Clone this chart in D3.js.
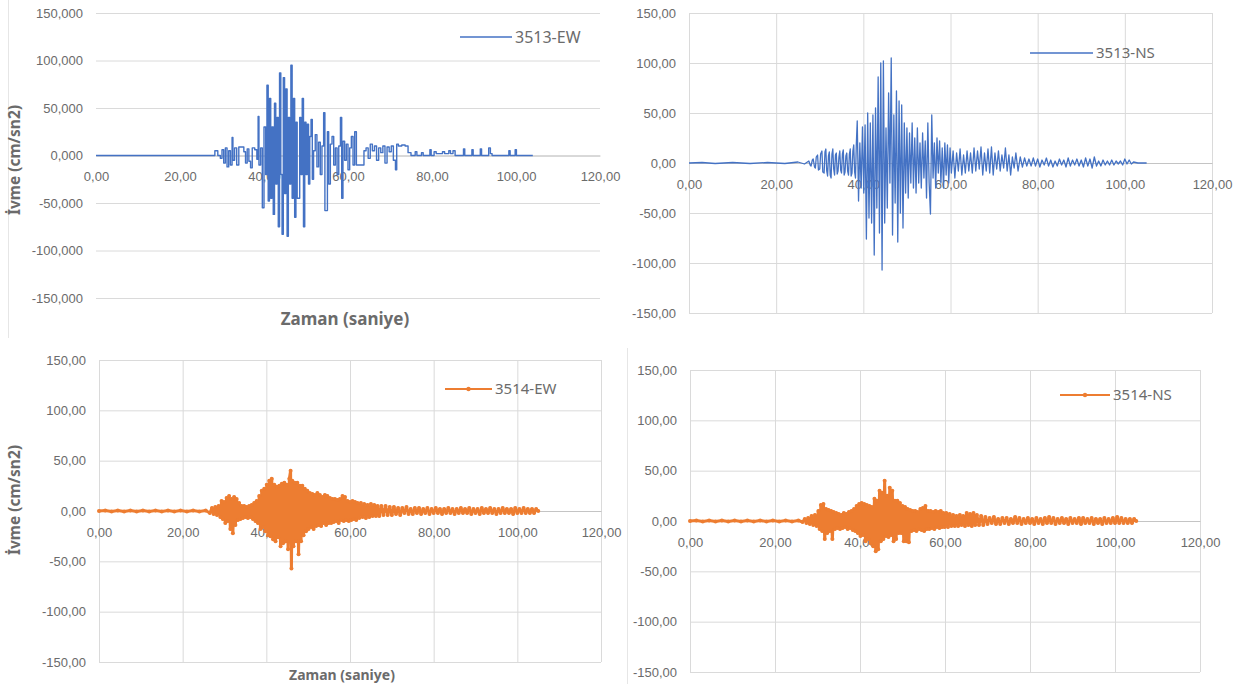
<!DOCTYPE html>
<html>
<head>
<meta charset="utf-8">
<script src="https://cdn.jsdelivr.net/npm/d3@7"></script>
<style>
  body { margin: 0; background: #fff; }
  svg { display: block; font-family: "Noto Sans", "Open Sans", sans-serif; }
</style>
</head>
<body>
<div id="graph"></div>
<script>
// axis ticks
var xTicks = [0, 20, 40, 60, 80, 100, 120];
var yTicks = [-150, -100, -50, 0, 50, 100, 150];
var seriesNames = ["3513-EW", "3513-NS", "3514-EW", "3514-NS"];
var yTitle = "İvme (cm/sn2)";
var xTitle = "Zaman (saniye)";

// [zaman (s), ivme (cm/sn2)]
var ew3513 = [[0,0],[28.2,0],[28.3,5],[29.0,0],[29.6,-3],[30.0,6],[30.4,-8],[30.8,8],[31.2,-12],[31.6,5],[32.0,-10],[32.4,19],[32.6,-5],[33.0,8],[33.5,-10],[34.0,9],[34.6,9],[35.2,4],[35.6,-8],[36.0,7],[36.4,-6],[36.8,-13],[37.2,8],[37.8,6],[38.3,-4],[38.6,41],[38.8,-10],[39.2,8],[39.6,-55],[40.0,30],[40.4,-20],[40.7,74],[41.0,-48],[41.3,60],[41.6,-45],[41.9,30],[42.2,-62],[42.5,55],[42.8,-30],[43.1,40],[43.4,-75],[43.7,87],[44.0,-20],[44.3,-83],[44.6,82],[44.9,-40],[45.2,70],[45.5,-85],[45.8,40],[46.1,-30],[46.4,95],[46.7,-45],[47.0,60],[47.3,-65],[47.6,35],[47.9,-45],[48.2,-45],[48.5,40],[48.8,-20],[49.1,60],[49.4,-75],[49.7,35],[50.0,-20],[50.3,33],[50.6,-30],[50.9,20],[51.2,38],[51.5,-25],[51.8,5],[52.2,22],[52.6,-12],[53.0,14],[53.4,-20],[53.8,10],[54.2,45],[54.5,-58],[54.8,-58],[55.1,25],[55.4,-30],[55.8,12],[56.2,20],[56.6,-10],[57.0,8],[57.4,-20],[57.8,10],[58.2,40],[58.5,-45],[58.8,15],[59.2,-5],[59.6,12],[60.0,-15],[60.4,8],[60.8,20],[61.2,-10],[61.6,25],[62.0,-10],[62.6,-10],[63.2,-10],[63.8,5],[64.3,8],[64.8,-3],[65.3,12],[65.8,5],[66.3,10],[66.8,-5],[67.3,8],[67.8,3],[68.3,10],[68.8,-8],[69.3,9],[69.8,4],[70.3,10],[70.8,-5],[71.3,-15],[71.6,12],[72.0,10],[72.8,11],[73.6,10],[74.3,3],[75.0,0],[76.0,4],[76.4,0],[77.5,3],[77.9,0],[79.5,6],[79.8,0],[80.5,4],[81.0,2],[82.5,4],[83.0,2],[84.0,5],[84.4,2],[85.0,5],[85.5,0],[87.5,7],[87.8,0],[89.5,6],[89.8,0],[91.5,7],[91.8,0],[93.5,8],[93.9,2],[94.3,0],[98.3,5],[98.6,0],[99.8,6],[100.1,0],[104,0]];

var ns3513 = [[0,0],[3,0.5],[6,-0.5],[10,0.5],[14,-0.5],[18,0.5],[22,-0.5],[25,1],[26.5,-1],[27.5,2],[27.8,-2],[28,-3],[28.3,3],[28.5,4],[28.8,-4],[29,-5],[29.2,6],[29.5,8],[29.7,-7],[30,-6],[30.2,9],[30.5,12],[30.7,-9],[31,-10],[31.2,11],[31.4,14],[31.6,-8],[31.8,-13],[32.0,7],[32.2,11],[32.4,-12],[32.6,-15],[32.8,9],[33,14],[33.2,-6],[33.4,-12],[33.6,8],[33.8,10],[34.0,-11],[34.2,-8],[34.4,6],[34.6,12],[34.8,-7],[35,-10],[35.2,9],[35.4,13],[35.6,-12],[35.8,-9],[36.0,7],[36.2,10],[36.4,-8],[36.6,-12],[36.8,9],[37,14],[37.2,-13],[37.4,-10],[37.6,12],[37.8,18],[38.0,-9],[38.2,-15],[38.4,20],[38.6,42],[38.9,-38],[39.2,20],[39.5,-25],[39.8,36],[40.1,-30],[40.4,38],[40.7,-76],[41.0,50],[41.3,-55],[41.6,40],[41.9,-60],[42.2,48],[42.5,-92],[42.8,55],[43.1,-45],[43.4,86],[43.7,-70],[44.0,100],[44.3,-107],[44.6,102],[44.9,-60],[45.2,35],[45.5,-45],[45.8,70],[46.1,-20],[46.4,105],[46.7,-72],[47.0,48],[47.3,-40],[47.6,72],[47.9,-79],[48.2,62],[48.5,-50],[48.8,58],[49.1,-65],[49.4,40],[49.7,-30],[50.0,35],[50.3,-35],[50.6,30],[50.9,-20],[51.2,40],[51.5,-25],[51.8,25],[52.1,-30],[52.4,35],[52.7,-20],[53.0,20],[53.3,-25],[53.6,30],[53.9,-15],[54.2,22],[54.5,-35],[54.8,40],[55.1,-20],[55.4,-51],[55.7,48],[56.0,-15],[56.3,20],[56.6,-25],[56.9,25],[57.2,-10],[57.5,22],[57.8,-20],[58.1,15],[58.4,-25],[58.7,20],[59.0,-12],[59.3,18],[59.6,-20],[59.9,15],[60.2,-10],[60.6,12],[61.0,-15],[61.4,10],[61.8,-8],[62.2,14],[62.6,-12],[63.0,8],[63.4,-10],[63.8,12],[64.2,-8],[64.6,10],[65.0,-10],[65.4,15],[65.8,-8],[66.2,12],[66.6,-6],[67.0,16],[67.4,-12],[67.8,10],[68.2,-8],[68.6,14],[69.0,-10],[69.4,16],[69.8,-12],[70.2,10],[70.6,-6],[71.0,12],[71.4,-8],[71.8,8],[72.2,-5],[72.6,15],[73.0,-8],[73.4,8],[73.8,-12],[74.2,6],[74.6,-5],[75.0,10],[75.5,-8],[76,6],[76.5,-4],[77,5],[77.5,-3],[78,4],[78.5,-3],[79,5],[79.5,-3],[80,4],[80.5,-4],[81,3],[81.5,-2],[82,5],[82.5,-3],[83,3],[83.5,-4],[84,2],[84.5,-3],[85,4],[85.5,-2],[86,3],[86.5,-4],[87,5],[87.5,-3],[88,3],[88.5,-2],[89,4],[89.5,-3],[90,3],[90.5,-4],[91,5],[91.5,-3],[92,4],[92.5,-5],[93,6],[93.5,-3],[94,2],[94.5,-3],[95,3],[95.5,-2],[96,2],[96.5,-2],[97,3],[97.5,-2],[98,2],[98.5,-1],[99,2],[99.5,-2],[100,4],[100.5,-1],[101,3],[101.5,-1],[102,1],[103,0],[105,0]];

var ew3514 = [[0,0],[1.5,0.5],[3,-0.5],[4.5,0.5],[6,-0.5],[7.5,0.5],[9,-0.5],[10.5,0.5],[12,-0.5],[13.5,0.5],[15,-0.5],[16.5,0.5],[18,-0.5],[19.5,0.5],[21,-0.5],[22.5,0.5],[24,-0.5],[25.5,0.5],[26.5,-2],[27,3],[27.4,-3],[27.8,4],[28.2,-4],[28.6,5],[29.0,-6],[29.3,10],[29.6,-8],[29.9,9],[30.2,-12],[30.5,13],[30.8,-10],[31.1,15],[31.4,-18],[31.7,12],[32.0,-22],[32.3,14],[32.6,-14],[32.9,12],[33.2,-9],[33.5,8],[33.8,-8],[34.1,5],[34.4,-7],[34.7,5],[35.0,-6],[35.3,4],[35.6,-7],[35.9,5],[36.2,-6],[36.5,6],[36.8,-8],[37.1,8],[37.4,-10],[37.7,10],[38.0,-12],[38.3,15],[38.6,-18],[38.9,20],[39.2,-16],[39.5,22],[39.8,-20],[40.1,26],[40.4,-24],[40.7,30],[41.0,-25],[41.3,32],[41.6,-28],[41.9,26],[42.2,-30],[42.5,24],[42.8,-26],[43.1,25],[43.4,-35],[43.7,27],[44.0,-32],[44.3,28],[44.6,-30],[44.9,26],[45.2,-38],[45.5,32],[45.8,40],[46.0,-57],[46.2,30],[46.5,-35],[46.8,28],[47.1,-30],[47.4,28],[47.7,-43],[48.0,25],[48.3,-30],[48.6,25],[48.9,-24],[49.2,22],[49.5,-20],[49.8,20],[50.1,-18],[50.4,18],[50.7,-16],[51.0,17],[51.3,-18],[51.6,16],[51.9,-15],[52.2,18],[52.5,-14],[52.8,16],[53.1,-15],[53.4,14],[53.7,-12],[54.0,16],[54.3,-14],[54.6,15],[54.9,-12],[55.2,13],[55.5,-12],[55.8,12],[56.1,-11],[56.4,12],[56.7,-10],[57.0,11],[57.3,-12],[57.6,12],[57.9,-9],[58.2,15],[58.5,-10],[58.8,14],[59.1,-9],[59.4,10],[59.7,-10],[60.0,9],[60.3,-9],[60.6,10],[60.9,-8],[61.2,9],[61.5,-9],[61.8,8],[62.2,-7],[62.6,8],[63.0,-6],[63.4,7],[63.8,-7],[64.2,6],[64.6,-6],[65.0,7],[65.4,-5],[65.8,6],[66.2,-5],[66.6,5],[67.0,-5],[67.5,5],[68.0,-4],[68.5,5],[69.0,-4],[69.5,4],[70.0,-4],[70.5,4],[71.0,-3],[71.5,3],[72.0,-4],[72.5,3],[73.0,-2],[73.5,4],[74.0,-3],[74.5,2],[75.0,-3],[75.5,3],[76.0,-2],[76.5,3],[77.0,-3],[77.5,2],[78.0,-2],[78.5,3],[79.0,-3],[79.5,2],[80.0,-2],[80.5,3],[81.0,-2],[81.5,2],[82.0,-3],[82.5,2],[83.0,-2],[83.5,3],[84.0,-2],[84.5,2],[85.0,-3],[85.5,2],[86.0,-2],[86.5,3],[87.0,-2],[87.5,2],[88.0,-2],[88.5,3],[89.0,-3],[89.5,2],[90.0,-2],[90.5,2],[91.0,-3],[91.5,3],[92.0,-2],[92.5,2],[93.0,-2],[93.5,3],[94.0,-2],[94.5,2],[95.0,-3],[95.5,2],[96.0,-2],[96.5,3],[97.0,-2],[97.5,2],[98.0,-2],[98.5,2],[99.0,-3],[99.5,3],[100.0,-2],[100.5,2],[101.0,-2],[101.5,3],[102.0,-2],[102.5,2],[103.0,-2],[103.5,2],[104.0,-2],[104.5,2],[105.0,0]];

var ns3514 = [[0,0],[1.5,0.5],[3,-0.5],[4.5,0.5],[6,-0.5],[7.5,0.5],[9,-0.5],[10.5,0.5],[12,-0.5],[13.5,0.5],[15,-0.5],[16.5,0.5],[18,-0.5],[19.5,0.5],[21,-0.5],[22.5,0.5],[24,-0.5],[25.5,0.5],[26.5,-1],[27,2],[27.4,-2],[27.8,3],[28.2,-3],[28.6,5],[29.0,-4],[29.4,6],[29.8,-5],[30.2,10],[30.5,-8],[30.8,16],[31.1,-10],[31.4,17],[31.7,-18],[32.0,12],[32.3,-12],[32.6,11],[32.9,-10],[33.2,10],[33.5,-18],[33.8,9],[34.1,-8],[34.4,8],[34.7,-7],[35.0,7],[35.3,-8],[35.6,6],[35.9,-7],[36.2,8],[36.5,-6],[36.8,7],[37.1,-8],[37.4,9],[37.7,-7],[38.0,10],[38.3,-9],[38.6,12],[38.9,-10],[39.2,15],[39.5,-12],[39.8,17],[40.1,-15],[40.4,18],[40.7,-14],[41.0,17],[41.3,-20],[41.6,16],[41.9,-18],[42.2,15],[42.5,-22],[42.8,14],[43.1,-25],[43.4,22],[43.7,-30],[44.0,20],[44.3,-28],[44.6,30],[44.9,-20],[45.2,28],[45.5,-18],[45.8,40],[46.1,-15],[46.4,25],[46.7,-16],[47.0,33],[47.3,-14],[47.6,30],[47.9,-20],[48.2,20],[48.5,-18],[48.8,20],[49.1,-12],[49.4,18],[49.7,-12],[50.0,15],[50.3,-20],[50.6,14],[50.9,-20],[51.2,12],[51.5,-21],[51.8,11],[52.1,-10],[52.4,10],[52.7,-9],[53.0,10],[53.3,-10],[53.6,9],[53.9,-8],[54.2,12],[54.5,-9],[54.8,13],[55.1,-10],[55.4,15],[55.7,-8],[56.0,10],[56.3,-8],[56.6,10],[56.9,-7],[57.2,9],[57.5,-8],[57.8,10],[58.1,-6],[58.4,9],[58.7,-7],[59.0,10],[59.3,-6],[59.6,8],[59.9,-6],[60.3,8],[60.7,-6],[61.1,7],[61.5,-5],[61.9,6],[62.3,-5],[62.7,5],[63.1,-5],[63.5,6],[63.9,-4],[64.3,5],[64.7,-5],[65.1,8],[65.5,-4],[65.9,7],[66.3,-5],[66.7,8],[67.1,-4],[67.5,6],[68.0,-4],[68.5,5],[69.0,-4],[69.5,4],[70.0,-3],[70.5,3],[71.0,-2],[71.5,4],[72.0,-3],[72.5,2],[73.0,-3],[73.5,3],[74.0,-2],[74.5,3],[75.0,-3],[75.5,2],[76.0,-2],[76.5,4],[77.0,-2],[77.5,3],[78.0,-3],[78.5,2],[79.0,-2],[79.5,3],[80.0,-2],[80.5,2],[81.0,-3],[81.5,3],[82.0,-2],[82.5,2],[83.0,-3],[83.5,3],[84.0,-2],[84.5,4],[85.0,-2],[85.5,3],[86.0,-3],[86.5,2],[87.0,-2],[87.5,3],[88.0,-2],[88.5,2],[89.0,-3],[89.5,3],[90.0,-2],[90.5,2],[91.0,-2],[91.5,3],[92.0,-3],[92.5,3],[93.0,-2],[93.5,2],[94.0,-2],[94.5,3],[95.0,-3],[95.5,2],[96.0,-2],[96.5,2],[97.0,-3],[97.5,3],[98.0,-2],[98.5,2],[99.0,-2],[99.5,3],[100.0,-2],[100.5,4],[101.0,-2],[101.5,3],[102.0,-2],[102.5,2],[103.0,-2],[103.5,2],[104.0,-2],[104.5,2],[105.0,0]];

var blue = "#4472c4";
var orange = "#ed7d31";
var textColor = "#6b6b6b";
var gridColor = "#dadada";

var tr = d3.formatLocale({decimal: ",", thousands: ".", grouping: [3], currency: ["", ""], minus: "-"});

var svg = d3.select("#graph").append("svg")
    .attr("width", 1243)
    .attr("height", 684);

svg.append("rect").attr("width", 1243).attr("height", 684).attr("fill", "#fff");

// faint frame lines of the pasted excel charts
svg.append("line").attr("x1", 8.5).attr("x2", 8.5).attr("y1", 0).attr("y2", 338)
    .attr("stroke", "#e6e6e6");
svg.append("line").attr("x1", 627.5).attr("x2", 627.5).attr("y1", 348).attr("y2", 684)
    .attr("stroke", "#e6e6e6");

var panels = [
  {data: ew3513, name: seriesNames[0], color: blue, left: 96, right: 600, top: 13, bottom: 298,
   fmt: ".3f", vgrid: false, step: true, markers: false, width: 1.4,
   legend: [460, 512, 37, 16], yT: [20, 160, 15.5], xT: [345, 325, 17]},
  {data: ns3513, name: seriesNames[1], color: blue, left: 689, right: 1212, top: 13, bottom: 313,
   fmt: ".2f", vgrid: true, step: false, markers: false, width: 1.3,
   legend: [1030, 1093, 53, 15]},
  {data: ew3514, name: seriesNames[2], color: orange, left: 99, right: 601, top: 360, bottom: 662,
   fmt: ".2f", vgrid: true, step: false, markers: true, width: 3,
   legend: [445, 492, 389, 15], yT: [20, 500, 15.5], xT: [342, 680, 14]},
  {data: ns3514, name: seriesNames[3], color: orange, left: 690, right: 1200, top: 370, bottom: 672,
   fmt: ".2f", vgrid: true, step: false, markers: true, width: 3,
   legend: [1060, 1110, 395, 15]}
];

panels.forEach(drawPanel);

function drawPanel(p) {
  var x = d3.scaleLinear().domain([0, 120]).range([p.left, p.right]);
  var y = d3.scaleLinear().domain([-150, 150]).range([p.bottom, p.top]);
  var g = svg.append("g");

  // horizontal grid + y labels
  var yAxis = d3.axisLeft(y)
      .tickValues(yTicks)
      .tickSize(-(p.right - p.left))
      .tickFormat(tr.format(p.fmt));
  g.append("g")
      .attr("transform", "translate(" + p.left + ",0)")
      .call(yAxis)
      .call(function(a) {
        a.select(".domain").remove();
        a.selectAll(".tick line").attr("stroke", gridColor);
        a.selectAll(".tick text").attr("x", -13).attr("fill", textColor)
          .style("font-size", "13px");
      });

  // vertical grid
  if (p.vgrid) {
    g.append("g")
        .attr("transform", "translate(0," + p.bottom + ")")
        .call(d3.axisBottom(x).tickValues(xTicks).tickSize(-(p.bottom - p.top)).tickFormat(""))
        .call(function(a) {
          a.select(".domain").remove();
          a.selectAll(".tick line").attr("stroke", gridColor);
        });
  }

  // x axis through zero
  g.append("g")
      .attr("transform", "translate(0," + y(0) + ")")
      .call(d3.axisBottom(x).tickValues(xTicks).tickSize(0).tickFormat(tr.format(".2f")))
      .call(function(a) {
        a.select(".domain").attr("stroke", "#c4c4c4");
        a.selectAll(".tick text").attr("y", 21).attr("dy", "0.35em")
          .attr("fill", textColor).style("font-size", "13px");
      });

  var line = d3.line()
      .x(function(d) { return x(d[0]); })
      .y(function(d) { return y(d[1]); })
      .curve(p.step ? d3.curveStepAfter : d3.curveLinear);

  g.append("path")
      .datum(p.data)
      .attr("fill", "none")
      .attr("stroke", p.color)
      .attr("stroke-width", p.width)
      .attr("stroke-linejoin", "round")
      .attr("d", line);

  if (p.markers) {
    g.selectAll("circle.pt")
        .data(p.data)
        .enter().append("circle")
        .attr("class", "pt")
        .attr("cx", function(d) { return x(d[0]); })
        .attr("cy", function(d) { return y(d[1]); })
        .attr("r", 2)
        .attr("fill", p.color);
  }

  // legend
  var lg = p.legend;
  g.append("line")
      .attr("x1", lg[0]).attr("x2", lg[1]).attr("y1", lg[2]).attr("y2", lg[2])
      .attr("stroke", p.color).attr("stroke-width", p.markers ? 2 : 1.6);
  if (p.markers) {
    g.append("circle").attr("cx", (lg[0] + lg[1]) / 2).attr("cy", lg[2]).attr("r", 2.2)
        .attr("fill", p.color);
  }
  g.append("text")
      .attr("x", lg[1] + 3).attr("y", lg[2]).attr("dy", "0.35em")
      .attr("fill", textColor)
      .style("font-size", lg[3] + "px")
      .text(p.name);

  if (p.yT) {
    g.append("text")
        .attr("transform", "translate(" + p.yT[0] + "," + p.yT[1] + ") rotate(-90)")
        .attr("text-anchor", "middle")
        .attr("fill", textColor)
        .style("font-weight", "bold")
        .style("font-size", p.yT[2] + "px")
        .text(yTitle);
  }
  if (p.xT) {
    g.append("text")
        .attr("x", p.xT[0]).attr("y", p.xT[1])
        .attr("text-anchor", "middle")
        .attr("fill", textColor)
        .style("font-weight", "bold")
        .style("font-size", p.xT[2] + "px")
        .text(xTitle);
  }
}
</script>
</body>
</html>
